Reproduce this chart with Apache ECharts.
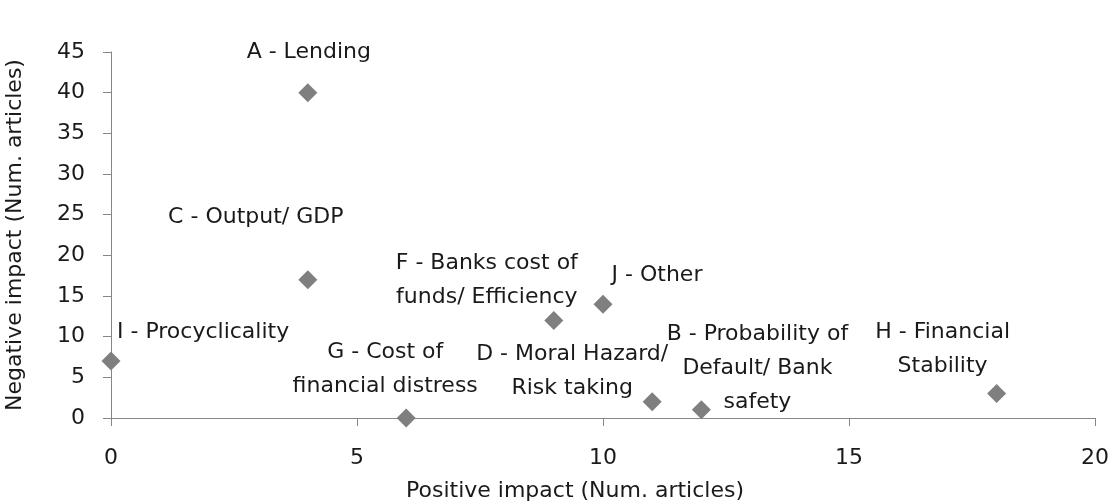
<!DOCTYPE html>
<html><head><meta charset="utf-8">
<script src="https://cdn.jsdelivr.net/npm/echarts@6/dist/echarts.min.js"></script>
<style>html,body{margin:0;padding:0;background:#fff}#c{width:1113px;height:504px}</style>
</head><body><div id="c"></div>
<script>
const names = ["A - Lending","C - Output/ GDP","I - Procyclicality","G - Cost of\nfinancial distress","F - Banks cost of\nfunds/ Efficiency","J - Other","D - Moral Hazard/\nRisk taking","B - Probability of\nDefault/ Bank\nsafety","H - Financial\nStability"];
const positiveImpact = [4,4,0,6,9,10,11,12,18];
const negativeImpact = [40,17,7,0,12,14,2,1,3];
const xTicks = [0,5,10,15,20];
const yTicks = [0,5,10,15,20,25,30,35,40,45];
// label placement (offset from marker, alignment)
const labelPlace = [
  {offset:[1,-40],align:'center'},
  {offset:[-52,-62],align:'center'},
  {offset:[6,-29],align:'left'},
  {offset:[-21,-49],align:'center'},
  {offset:[-67,-40],align:'center'},
  {offset:[54,-29],align:'center'},
  {offset:[-80,-30],align:'center'},
  {offset:[56,-42],align:'center'},
  {offset:[-54,-44],align:'center'}
];
const FONT = 'DejaVu Sans';
const txt = '#1a1a1a';
const data = names.map((n,i)=>({
  name:n, value:[positiveImpact[i],negativeImpact[i]],
  label:{show:true,position:'inside',offset:labelPlace[i].offset,align:labelPlace[i].align,verticalAlign:'middle',
    color:txt,opacity:1,textBorderWidth:0,fontFamily:FONT,fontSize:22,lineHeight:34}
}));
const chart = echarts.init(document.getElementById('c'));
chart.setOption({
  animation:false,
  grid:{left:111,right:18,top:52,bottom:86,outerBoundsMode:'none',containLabel:false},
  xAxis:{type:'value',min:xTicks[0],max:xTicks[xTicks.length-1],interval:5,
    name:'Positive impact (Num. articles)',nameLocation:'middle',nameGap:62,
    nameTextStyle:{fontFamily:FONT,fontSize:22,color:txt,padding:[0,56,0,0]},
    axisLine:{show:true,lineStyle:{color:'#868686',width:1}},
    axisTick:{show:true,length:8,lineStyle:{color:'#868686'}},
    axisLabel:{fontFamily:FONT,fontSize:22,color:txt,margin:29},
    splitLine:{show:false}},
  yAxis:{type:'value',min:yTicks[0],max:yTicks[yTicks.length-1],interval:5,
    name:'Negative impact (Num. articles)',nameLocation:'middle',nameGap:85,
    nameTextStyle:{fontFamily:FONT,fontSize:22,color:txt},
    axisLine:{show:true,lineStyle:{color:'#868686',width:1}},
    axisTick:{show:true,length:8,lineStyle:{color:'#868686'}},
    axisLabel:{fontFamily:FONT,fontSize:22,color:txt,margin:26},
    splitLine:{show:false}},
  series:[{type:'scatter',symbol:'diamond',symbolSize:19,
    itemStyle:{color:'#7f7f7f',opacity:1},
    label:{show:true,formatter:p=>p.name,fontFamily:FONT,fontSize:22,color:txt,lineHeight:34},
    data:data}]
});
</script></body></html>
